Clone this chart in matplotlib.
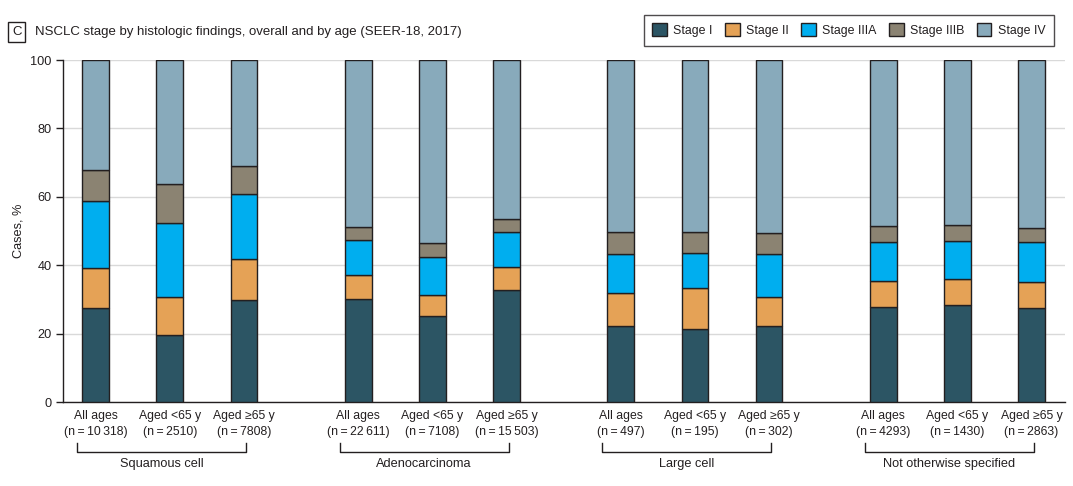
import matplotlib
matplotlib.use("Agg")
import matplotlib.pyplot as plt
from matplotlib.patches import Patch
import matplotlib.transforms as mtransforms

plt.rcParams['font.family'] = ['Liberation Sans', 'DejaVu Sans']

groups = ["Squamous cell", "Adenocarcinoma", "Large cell", "Not otherwise specified"]
bar_labels = [
    "All ages\n(n\u2009=\u200910\u2009318)", "Aged <65 y\n(n\u2009=\u20092510)", "Aged \u226565 y\n(n\u2009=\u20097808)",
    "All ages\n(n\u2009=\u200922\u2009611)", "Aged <65 y\n(n\u2009=\u20097108)", "Aged \u226565 y\n(n\u2009=\u200915\u2009503)",
    "All ages\n(n\u2009=\u2009497)", "Aged <65 y\n(n\u2009=\u2009195)", "Aged \u226565 y\n(n\u2009=\u2009302)",
    "All ages\n(n\u2009=\u20094293)", "Aged <65 y\n(n\u2009=\u20091430)", "Aged \u226565 y\n(n\u2009=\u20092863)",
]
stages = ["Stage I", "Stage II", "Stage IIIA", "Stage IIIB", "Stage IV"]
stage_I = [27.4, 19.5, 29.7, 30.0, 25.1, 32.7, 22.2, 21.3, 22.2, 27.7, 28.3, 27.4]
stage_II = [11.7, 11.1, 12.2, 7.0, 6.1, 6.7, 9.6, 11.9, 8.4, 7.6, 7.6, 7.6]
stage_IIIA = [19.7, 21.6, 19.0, 10.5, 11.1, 10.4, 11.6, 10.5, 12.8, 11.5, 11.3, 11.8]
stage_IIIB = [9.1, 11.6, 8.2, 3.8, 4.3, 3.8, 6.2, 5.9, 5.9, 4.8, 4.7, 4.2]
stage_IV = [32.1, 36.2, 30.9, 48.7, 53.4, 46.4, 50.4, 50.4, 50.7, 48.4, 48.1, 49.0]
colors = ["#2C5564", "#E5A256", "#00AEEF", "#8B8372", "#88AABB"]

series = [stage_I, stage_II, stage_IIIA, stage_IIIB, stage_IV]

fig = plt.figure(figsize=(10.73, 4.86), dpi=100)
ax = fig.add_axes([0.0587, 0.1728, 0.9338, 0.7037])

group_gap = 3.54
positions = []
for g in range(len(groups)):
    for i in range(3):
        positions.append(g * group_gap + i)

bottom = [0.0] * len(positions)
for vals, col, name in zip(series, colors, stages):
    ax.bar(positions, vals, width=0.36, bottom=bottom, color=col,
           edgecolor="#231F20", linewidth=1.0, label=name, zorder=3)
    bottom = [b + v for b, v in zip(bottom, vals)]

ax.set_ylim(0, 100)
ax.set_xlim(-0.44, positions[-1] + 0.45)
ax.set_yticks([0, 20, 40, 60, 80, 100])
ax.yaxis.grid(True, color="#D9D9D9", linewidth=1.0, zorder=0)
ax.set_axisbelow(True)
ax.set_xticks(positions)
ax.set_xticklabels(bar_labels, fontsize=8.8, color="#231F20", linespacing=1.35)
ax.tick_params(axis='x', length=0, pad=6)
ax.tick_params(axis='y', length=5, width=1, color="#231F20", labelsize=9.2, labelcolor="#231F20", pad=3)
for s in ["top", "right"]:
    ax.spines[s].set_visible(False)
for s in ["left", "bottom"]:
    ax.spines[s].set_color("#231F20")
    ax.spines[s].set_linewidth(1.0)
ax.set_ylabel("Cases, %", fontsize=9.2, color="#231F20", labelpad=4)

trans = mtransforms.blended_transform_factory(ax.transData, ax.transAxes)
for g, name in enumerate(groups):
    x0 = g * group_gap - 0.25
    x1 = g * group_gap + 2 + 0.03
    ax.plot([x0, x0, x1, x1], [-0.12, -0.146, -0.146, -0.12], transform=trans,
            color="#231F20", linewidth=1.0, clip_on=False)
    ax.text((x0 + x1) / 2, -0.182, name, transform=trans, ha="center", va="center",
            fontsize=9.2, color="#231F20")

fig.text(0.0155, 0.934, "C", fontsize=9.5, color="#231F20", ha="center", va="center",
         bbox=dict(boxstyle="square,pad=0.3", facecolor="white", edgecolor="#231F20", linewidth=1.0))
fig.text(0.033, 0.934, "NSCLC stage by histologic findings, overall and by age (SEER-18, 2017)",
         fontsize=9.5, color="#231F20", ha="left", va="center")

handles = [Patch(facecolor=c, edgecolor="#231F20", linewidth=1.0, label=n) for c, n in zip(colors, stages)]
leg = fig.legend(handles=handles, loc="center", bbox_to_anchor=(0.791, 0.938), ncol=5, frameon=True,
                 fontsize=8.9, handlelength=1.2, handleheight=1.2, handletextpad=0.5, columnspacing=1.0,
                 fancybox=False, edgecolor="#231F20", borderpad=0.7)
leg.get_frame().set_linewidth(1.0)
for t in leg.get_texts():
    t.set_color("#231F20")

fig.savefig("out.png", dpi=100, facecolor="white")
